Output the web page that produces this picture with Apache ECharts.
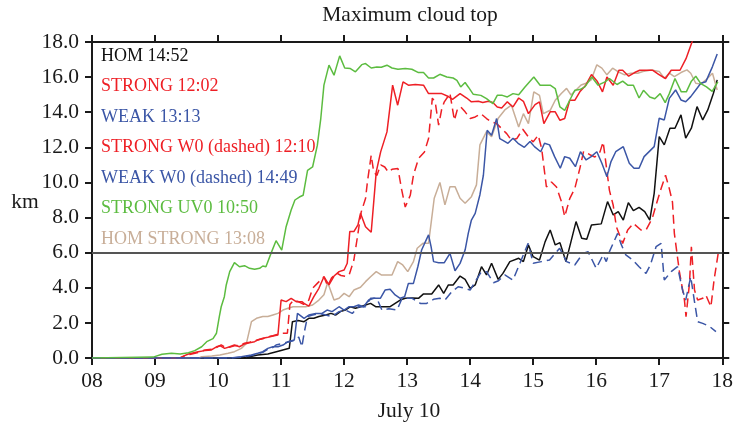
<!DOCTYPE html>
<html>
<head>
<meta charset="utf-8">
<title>Maximum cloud top</title>
<script src="https://cdn.jsdelivr.net/npm/echarts@6/dist/echarts.min.js"></script>
<style>
  html, body { margin: 0; padding: 0; background: #fff; }
  #chart { width: 736px; height: 427px; }
</style>
</head>
<body>
<div id="chart"></div>
<script>
// Maximum cloud-top height (km) per experiment, July 10, 08-18 h.
// Each entry is [hour of day, height in km].
const hourTicks = [8, 9, 10, 11, 12, 13, 14, 15, 16, 17, 18];
const kmTicks = [0, 2, 4, 6, 8, 10, 12, 14, 16, 18];
const referenceLevel = 6.0;

const legendLabels = [
  'HOM 14:52',
  'STRONG 12:02',
  'WEAK 13:13',
  'STRONG W0 (dashed) 12:10',
  'WEAK W0 (dashed) 14:49',
  'STRONG UV0 10:50',
  'HOM STRONG 13:08'
];

const hom = [
  [8,0],[10.4,0],[10.63,0.17],[10.79,0.23],[10.97,0.40],[11.13,0.55],[11.18,2.07],[11.27,2.13],
  [11.365,2.07],[11.44,2.26],[11.52,2.26],[11.60,2.36],[11.71,2.45],[11.79,2.54],[11.87,2.45],
  [11.94,2.64],[12.02,2.73],[12.10,2.92],[12.18,2.83],[12.26,2.92],[12.34,3.02],[12.42,3.11],
  [12.50,2.92],[12.60,2.92],[12.73,2.92],[12.81,3.11],[12.89,3.30],[12.97,3.40],[13.08,3.42],
  [13.18,3.40],[13.26,3.65],[13.39,3.65],[13.50,4.16],[13.58,3.68],[13.655,4.16],[13.73,4.16],
  [13.84,4.67],[13.92,4.48],[14.00,3.97],[14.08,4.16],[14.18,5.20],[14.26,4.73],[14.34,5.40],
  [14.445,4.48],[14.52,4.82],[14.63,5.49],[14.77,5.68],[14.845,5.49],[14.925,6.44],[15.00,5.77],
  [15.10,5.58],[15.19,6.63],[15.27,7.29],[15.35,6.44],[15.425,6.57],[15.52,5.49],[15.68,7.77],
  [15.77,6.82],[15.85,6.76],[15.925,7.58],[16.08,7.64],[16.18,8.91],[16.27,8.15],[16.35,8.34],
  [16.43,7.86],[16.51,8.85],[16.59,8.39],[16.68,8.58],[16.77,8.34],[16.85,7.86],[16.92,9.38],
  [17.00,12.61],[17.08,12.14],[17.17,13.09],[17.25,13.09],[17.345,13.85],[17.42,12.52],
  [17.51,13.09],[17.60,14.32],[17.69,13.56],[17.77,14.13],[17.86,15.08],[17.92,15.84]
];

const strong = [
  [8,0],[9.395,0],[9.45,0.11],[9.53,0.23],[9.685,0.36],[9.79,0.42],[9.895,0.46],[9.975,0.64],
  [10.03,0.70],[10.105,0.55],[10.185,0.64],[10.26,0.74],[10.34,0.64],[10.42,0.80],[10.50,0.87],
  [10.58,0.93],[10.63,1.03],[10.71,1.12],[10.79,1.18],[10.87,1.25],[10.95,1.31],[11.00,3.30],
  [11.08,3.21],[11.16,3.40],[11.24,3.21],[11.33,3.21],[11.365,3.11],[11.44,2.96],[11.52,3.49],
  [11.60,3.97],[11.68,4.63],[11.76,4.16],[11.84,4.67],[11.92,4.92],[12.00,5.01],[12.05,5.40],
  [12.09,7.20],[12.155,7.20],[12.22,7.58],[12.26,8.24],[12.34,7.48],[12.43,7.16],[12.51,10.60],
  [12.58,11.74],[12.68,12.88],[12.77,15.54],[12.85,14.40],[12.935,15.73],[13.02,15.54],
  [13.13,15.58],[13.26,15.54],[13.34,15.06],[13.445,15.06],[13.55,15.06],[13.645,14.91],
  [13.72,14.73],[13.84,15.06],[13.945,14.81],[14.02,14.59],[14.13,14.62],[14.20,14.55],
  [14.29,14.62],[14.36,14.55],[14.43,14.30],[14.50,14.24],[14.59,14.59],[14.68,14.30],
  [14.77,14.81],[14.845,14.62],[14.925,13.92],[15.03,14.43],[15.10,14.59],[15.17,13.35],
  [15.27,14.02],[15.35,14.02],[15.425,13.54],[15.50,13.64],[15.58,14.68],[15.66,14.68],
  [15.74,15.16],[15.835,15.54],[15.925,16.15],[16.015,15.77],[16.10,15.16],[16.17,16.01],
  [16.27,15.54],[16.36,16.39],[16.42,16.39],[16.515,16.05],[16.61,16.26],[16.69,16.39],
  [16.90,16.39],[16.99,16.16],[17.10,15.92],[17.19,16.39],[17.33,16.39],[17.425,17.05],
  [17.52,18.0],[17.6,18.9]
];

const weak = [
  [8,0],[10.2,0],[10.37,0.07],[10.53,0.17],[10.63,0.27],[10.71,0.36],[10.79,0.55],[10.87,0.64],
  [10.95,0.64],[11.03,0.74],[11.11,0.93],[11.21,1.03],[11.26,2.54],[11.29,2.45],[11.365,2.26],
  [11.44,2.45],[11.55,2.54],[11.65,2.54],[11.73,2.73],[11.81,2.64],[11.92,2.92],[12.00,2.73],
  [12.08,2.92],[12.155,2.92],[12.23,3.02],[12.31,2.92],[12.39,3.30],[12.47,3.40],[12.575,3.40],
  [12.65,3.87],[12.73,3.91],[12.81,3.59],[12.89,3.40],[12.96,3.49],[13.02,4.25],[13.10,4.25],
  [13.17,5.20],[13.23,6.15],[13.29,6.63],[13.34,7.01],[13.38,6.34],[13.42,5.49],[13.50,5.43],
  [13.59,5.43],[13.68,5.96],[13.76,4.97],[13.84,5.39],[13.92,6.15],[13.97,7.10],[14.02,7.86],
  [14.08,8.24],[14.155,9.30],[14.21,10.41],[14.27,12.97],[14.34,12.69],[14.42,13.64],
  [14.47,12.50],[14.52,12.40],[14.60,12.23],[14.68,12.52],[14.76,12.23],[14.86,12.00],
  [14.95,12.33],[15.02,12.04],[15.12,11.75],[15.18,12.23],[15.26,12.14],[15.34,11.47],
  [15.43,10.81],[15.50,11.47],[15.58,11.38],[15.67,10.90],[15.75,11.75],[15.84,11.28],
  [15.92,11.47],[16.01,11.75],[16.09,11.09],[16.17,10.33],[16.235,11.19],[16.31,11.75],
  [16.43,12.04],[16.525,11.09],[16.60,10.81],[16.68,10.81],[16.76,11.47],[16.92,12.04],
  [17.00,13.66],[17.08,13.56],[17.16,14.79],[17.26,15.27],[17.345,14.70],[17.42,14.60],
  [17.50,14.89],[17.58,15.27],[17.66,15.65],[17.74,15.74],[17.845,16.60],[17.92,17.32]
];

const strongW0 = [
  [8,0],[9.40,0],[9.46,0.10],[9.55,0.20],[9.69,0.32],[9.79,0.46],[9.90,0.50],[9.98,0.60],
  [10.05,0.75],[10.12,0.60],[10.19,0.62],[10.26,0.70],[10.34,0.72],[10.42,0.84],[10.50,0.90],
  [10.58,0.98],[10.65,1.05],[10.71,1.10],[10.79,1.20],[10.87,1.27],[10.95,1.36],[11.00,1.41],
  [11.10,1.41],[11.14,3.05],[11.20,3.30],[11.28,3.20],[11.36,3.05],[11.44,3.30],[11.50,3.97],
  [11.575,4.25],[11.68,4.63],[11.74,4.10],[11.80,4.55],[11.88,4.85],[11.95,4.70],[12.02,4.65],
  [12.08,4.73],[12.155,5.58],[12.22,7.10],[12.27,8.30],[12.34,9.08],[12.37,10.03],[12.43,11.55],
  [12.47,10.60],[12.52,10.40],[12.58,11.00],[12.645,10.88],[12.70,10.60],[12.76,10.75],
  [12.855,10.79],[12.91,9.65],[12.97,8.60],[13.05,9.27],[13.10,10.41],[13.18,11.36],
  [13.275,11.74],[13.34,12.50],[13.40,14.80],[13.445,14.59],[13.50,13.26],[13.55,14.20],
  [13.59,14.59],[13.68,15.06],[13.75,13.54],[13.80,14.20],[13.85,14.30],[13.92,14.02],
  [14.00,13.64],[14.08,13.73],[14.17,13.92],[14.26,13.64],[14.34,13.45],[14.42,13.35],
  [14.50,13.07],[14.58,12.78],[14.655,12.40],[14.74,12.50],[14.835,13.03],[14.925,12.59],
  [15.00,12.31],[15.08,12.69],[15.135,11.92],[15.21,9.74],[15.29,10.03],[15.37,9.74],
  [15.45,8.89],[15.50,8.05],[15.58,9.08],[15.66,9.65],[15.74,10.79],[15.80,11.77],[15.90,11.58],
  [15.98,11.45],[16.06,11.74],[16.11,12.31],[16.165,10.79],[16.21,9.55],[16.27,8.70],
  [16.32,7.48],[16.42,6.53],[16.50,7.29],[16.59,7.67],[16.71,7.29],[16.79,7.29],[16.89,7.96],
  [16.95,8.72],[17.03,9.65],[17.10,10.41],[17.16,9.65],[17.21,8.89],[17.24,7.10],[17.32,4.92],
  [17.40,3.30],[17.425,2.36],[17.48,4.25],[17.51,6.34],[17.56,3.87],[17.61,3.30],[17.69,3.40],
  [17.74,3.59],[17.82,2.92],[17.87,4.44],[17.94,6.06]
];

const weakW0 = [
  [8,0],[10.2,0],[10.37,0.05],[10.53,0.14],[10.63,0.24],[10.71,0.32],[10.79,0.50],[10.87,0.60],
  [10.92,0.74],[11.02,0.83],[11.13,0.93],[11.23,1.03],[11.28,1.20],[11.33,0.64],[11.37,1.50],
  [11.42,2.36],[11.50,2.45],[11.60,2.54],[11.71,2.45],[11.81,2.36],[11.92,2.64],[12.02,2.73],
  [12.13,2.54],[12.23,2.92],[12.34,2.92],[12.42,3.40],[12.52,3.40],[12.60,2.73],[12.71,2.80],
  [12.84,2.73],[12.92,3.40],[12.97,3.40],[13.08,3.40],[13.21,3.11],[13.31,3.11],[13.42,3.34],
  [13.52,3.40],[13.60,3.30],[13.71,3.78],[13.81,4.06],[13.92,3.97],[14.00,3.87],[14.08,4.35],
  [14.18,4.92],[14.26,4.92],[14.37,4.29],[14.45,4.40],[14.55,4.73],[14.68,4.44],[14.79,5.40],
  [14.92,6.53],[15.00,5.40],[15.13,5.49],[15.26,5.58],[15.42,6.25],[15.53,5.49],[15.66,5.30],
  [15.79,5.96],[15.87,6.06],[16.00,5.11],[16.11,5.87],[16.16,5.49],[16.21,6.06],[16.34,7.10],
  [16.39,6.53],[16.47,5.87],[16.58,5.58],[16.68,5.20],[16.79,4.82],[16.86,5.30],[16.95,6.34],
  [17.03,6.53],[17.08,4.44],[17.19,4.92],[17.29,5.20],[17.37,3.87],[17.42,3.30],[17.50,4.63],
  [17.56,3.20],[17.61,2.07],[17.69,1.97],[17.79,1.82],[17.90,1.50]
];

const strongUv0 = [
  [8,0],[8.97,0.05],[9.11,0.21],[9.26,0.27],[9.40,0.23],[9.53,0.30],[9.63,0.42],[9.74,0.64],
  [9.82,0.93],[9.92,1.10],[9.975,1.41],[10.02,2.36],[10.05,2.92],[10.10,3.49],[10.13,4.16],
  [10.185,4.92],[10.26,5.43],[10.34,5.20],[10.42,5.26],[10.50,5.11],[10.58,5.05],[10.66,5.11],
  [10.71,5.24],[10.76,5.20],[10.84,5.96],[10.92,6.68],[11.01,6.15],[11.08,7.48],[11.16,8.43],
  [11.22,9.00],[11.29,9.17],[11.35,9.27],[11.42,10.69],[11.50,10.88],[11.575,12.11],
  [11.63,13.64],[11.68,15.54],[11.76,16.68],[11.84,16.11],[11.93,17.21],[12.01,16.52],
  [12.10,16.49],[12.18,16.30],[12.28,16.71],[12.34,16.77],[12.43,16.52],[12.52,16.58],
  [12.59,16.56],[12.68,16.68],[12.76,16.52],[12.855,16.45],[12.97,16.49],[13.075,16.45],
  [13.18,16.26],[13.26,16.26],[13.34,15.95],[13.42,15.95],[13.52,16.16],[13.63,16.01],
  [13.73,15.95],[13.79,15.82],[13.85,15.44],[13.92,15.69],[13.97,15.44],[14.05,15.02],
  [14.17,14.96],[14.26,14.77],[14.36,14.49],[14.43,14.96],[14.51,14.96],[14.59,14.87],
  [14.68,15.06],[14.77,15.00],[14.87,15.44],[15.01,16.01],[15.11,15.54],[15.27,15.54],
  [15.35,15.35],[15.425,14.30],[15.50,14.11],[15.58,14.68],[15.66,15.25],[15.74,15.29],
  [15.82,15.44],[15.93,16.01],[16.03,15.54],[16.14,15.73],[16.21,15.92],[16.33,15.58],
  [16.42,15.77],[16.50,15.54],[16.59,15.54],[16.68,14.81],[16.75,15.25],[16.85,14.87],
  [16.93,14.77],[17.015,15.06],[17.095,14.55],[17.16,15.06],[17.25,15.92],[17.35,15.16],
  [17.43,15.16],[17.51,15.77],[17.58,16.05],[17.66,15.63],[17.75,15.44],[17.84,15.19],
  [17.93,15.73]
];

const homStrong = [
  [8,0],[9.70,0],[9.74,0.07],[9.90,0.11],[10.03,0.17],[10.16,0.27],[10.26,0.36],[10.37,0.55],
  [10.45,0.83],[10.53,2.07],[10.61,2.26],[10.71,2.36],[10.79,2.36],[10.87,2.45],[10.95,2.54],
  [11.03,2.73],[11.11,2.83],[11.19,2.92],[11.27,2.92],[11.39,2.92],[11.50,3.02],[11.60,3.30],
  [11.68,3.60],[11.74,4.30],[11.84,3.30],[11.92,3.40],[12.00,3.68],[12.08,3.49],[12.155,3.87],
  [12.26,4.03],[12.34,4.35],[12.42,4.63],[12.51,4.92],[12.59,4.73],[12.68,4.73],[12.76,4.73],
  [12.85,5.49],[12.93,5.30],[13.01,4.92],[13.10,5.49],[13.16,6.25],[13.25,6.53],[13.34,6.53],
  [13.38,7.67],[13.43,9.10],[13.52,10.00],[13.60,8.72],[13.68,9.76],[13.76,9.76],[13.84,9.10],
  [13.92,8.81],[14.02,9.19],[14.10,9.86],[14.155,12.14],[14.26,12.89],[14.34,12.61],
  [14.445,13.66],[14.55,14.13],[14.655,14.40],[14.77,13.16],[14.845,13.92],[14.925,13.35],
  [15.01,15.16],[15.10,14.96],[15.16,13.92],[15.27,14.11],[15.35,14.68],[15.45,15.08],
  [15.53,15.36],[15.60,14.98],[15.68,15.27],[15.76,15.55],[15.84,15.65],[15.92,15.84],
  [16.01,16.70],[16.09,16.51],[16.17,16.13],[16.26,16.51],[16.34,16.32],[16.45,16.13],
  [16.55,16.22],[16.66,16.22],[16.74,16.32],[16.87,16.41],[17.00,16.32],[17.08,15.94],
  [17.16,16.22],[17.24,16.03],[17.345,16.26],[17.44,16.41],[17.50,16.22],[17.58,15.65],
  [17.66,15.60],[17.74,15.84],[17.845,16.22],[17.92,15.27]
];

const SERIF = '"Liberation Serif", "DejaVu Serif", serif';
const INK = '#1a1a1a';
const COLORS = {
  black: '#111111',
  red: '#ee1f25',
  blue: '#3b56a6',
  green: '#5cbc40',
  tan: '#c8ae98'
};
const legendColors = [COLORS.black, COLORS.red, COLORS.blue, COLORS.red, COLORS.blue, COLORS.green, COLORS.tan];

const GRID = { left: 92, right: 11, top: 42, bottom: 69 };
const AXIS_FONT = 21.5;
const LEGEND_FONT = 18;

function lineSeries(name, data, color, dashed) {
  return {
    name: name,
    type: 'line',
    data: data,
    showSymbol: false,
    symbol: 'none',
    clip: true,
    lineStyle: { color: color, width: 1.5, type: dashed ? [9, 5] : 'solid' },
    emphasis: { disabled: true }
  };
}

const axisLineStyle = { color: INK, width: 2 };
const tickStyle = { show: true, inside: false, length: 7, lineStyle: { color: INK, width: 2 } };

const chart = echarts.init(document.getElementById('chart'), null, { renderer: 'canvas' });

const homSeries = lineSeries('HOM', hom, COLORS.black, false);
homSeries.markLine = {
  silent: true,
  symbol: 'none',
  label: { show: false },
  lineStyle: { color: '#555555', width: 2, type: 'solid' },
  data: [{ yAxis: referenceLevel }]
};

const option = {
  animation: false,
  backgroundColor: '#ffffff',
  grid: { left: GRID.left, right: GRID.right, top: GRID.top, bottom: GRID.bottom, containLabel: false },
  xAxis: [
    {
      type: 'value', position: 'bottom',
      min: hourTicks[0], max: hourTicks[hourTicks.length - 1], interval: 1,
      axisLine: { show: true, onZero: false, lineStyle: axisLineStyle },
      axisTick: tickStyle,
      splitLine: { show: false },
      axisLabel: {
        show: true, margin: 12, color: INK, fontFamily: SERIF, fontSize: AXIS_FONT,
        formatter: v => String(v).padStart(2, '0')
      }
    },
    {
      type: 'value', position: 'top',
      min: hourTicks[0], max: hourTicks[hourTicks.length - 1], interval: 1,
      axisLine: { show: true, onZero: false, lineStyle: axisLineStyle },
      axisTick: tickStyle,
      splitLine: { show: false },
      axisLabel: { show: false }
    }
  ],
  yAxis: [
    {
      type: 'value', position: 'left',
      min: kmTicks[0], max: kmTicks[kmTicks.length - 1], interval: 2,
      axisLine: { show: true, onZero: false, lineStyle: axisLineStyle },
      axisTick: tickStyle,
      splitLine: { show: false },
      axisLabel: {
        show: true, margin: 13, color: INK, fontFamily: SERIF, fontSize: AXIS_FONT,
        formatter: v => v.toFixed(1)
      }
    },
    {
      type: 'value', position: 'right',
      min: kmTicks[0], max: kmTicks[kmTicks.length - 1], interval: 2,
      axisLine: { show: true, onZero: false, lineStyle: axisLineStyle },
      axisTick: tickStyle,
      splitLine: { show: false },
      axisLabel: { show: false }
    }
  ],
  series: [
    homSeries,
    lineSeries('HOM STRONG', homStrong, COLORS.tan, false),
    lineSeries('STRONG W0', strongW0, COLORS.red, true),
    lineSeries('STRONG', strong, COLORS.red, false),
    lineSeries('WEAK W0', weakW0, COLORS.blue, true),
    lineSeries('WEAK', weak, COLORS.blue, false),
    lineSeries('STRONG UV0', strongUv0, COLORS.green, false)
  ],
  graphic: [
    {
      type: 'text', x: 410, y: 15,
      style: { text: 'Maximum cloud top', fill: INK, font: AXIS_FONT + 'px ' + SERIF, textAlign: 'center', textVerticalAlign: 'middle' }
    },
    {
      type: 'text', x: 409, y: 411,
      style: { text: 'July 10', fill: INK, font: AXIS_FONT + 'px ' + SERIF, textAlign: 'center', textVerticalAlign: 'middle' }
    },
    {
      type: 'text', x: 25, y: 202,
      style: { text: 'km', fill: INK, font: AXIS_FONT + 'px ' + SERIF, textAlign: 'center', textVerticalAlign: 'middle' }
    }
  ].concat(legendLabels.map((label, i) => ({
    type: 'text', x: 101, y: 56 + i * 30.5, z: 10,
    style: { text: label, fill: legendColors[i], font: LEGEND_FONT + 'px ' + SERIF, textAlign: 'left', textVerticalAlign: 'middle' }
  })))
};

chart.setOption(option);
</script>
</body>
</html>
